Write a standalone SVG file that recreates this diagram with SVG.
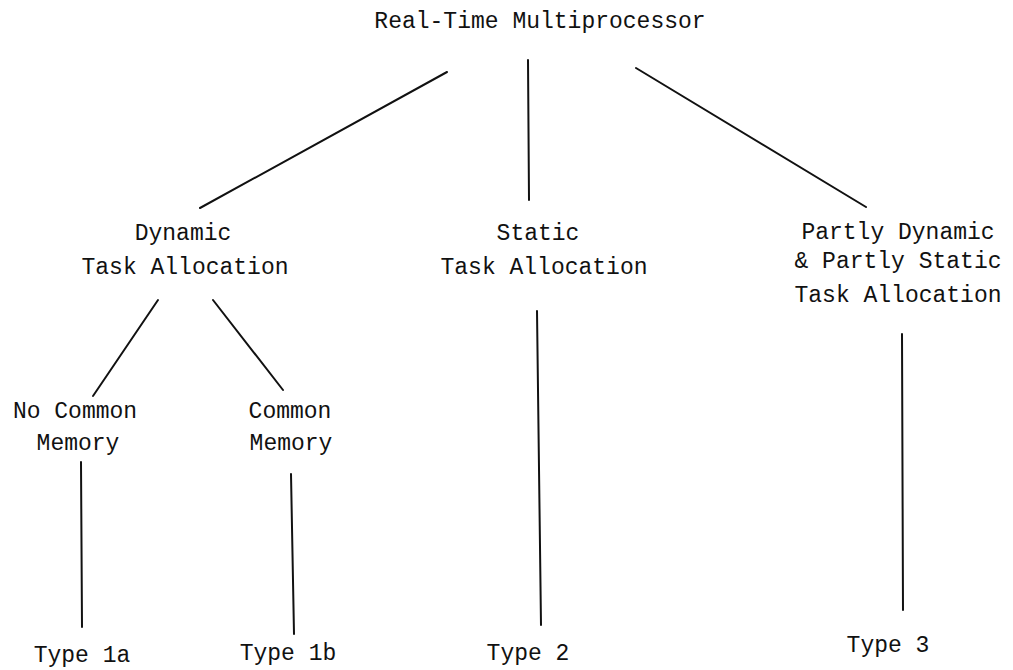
<svg xmlns="http://www.w3.org/2000/svg" width="1013" height="670" viewBox="0 0 1013 670">
<style>
text{font-family:"Liberation Mono","Courier New",monospace;font-size:23px;fill:#111;text-anchor:middle}
.c line{stroke:#111;stroke-width:2;stroke-linecap:round}
</style>
<rect width="1013" height="670" fill="#fff"/>
<g class="c" id="connectors">
<line x1="447" y1="72" x2="200" y2="208"/>
<line x1="528" y1="60" x2="529" y2="200"/>
<line x1="636" y1="68" x2="866" y2="207"/>
<line x1="158" y1="300" x2="93" y2="396"/>
<line x1="213" y1="300" x2="283" y2="390"/>
<line x1="81" y1="462" x2="82" y2="627"/>
<line x1="291" y1="474" x2="294" y2="634"/>
<line x1="537" y1="311" x2="541" y2="625"/>
<line x1="902" y1="334" x2="903" y2="610"/>
</g>
<g id="root"><text x="540" y="28">Real-Time Multiprocessor</text></g>
<g id="dynamic"><text x="183" y="240">Dynamic</text><text x="185" y="274">Task Allocation</text></g>
<g id="static"><text x="538" y="240">Static</text><text x="544" y="274">Task Allocation</text></g>
<g id="partly"><text x="898" y="239">Partly Dynamic</text><text x="898" y="268">&amp; Partly Static</text><text x="898" y="302">Task Allocation</text></g>
<g id="nocommon"><text x="75" y="418">No Common</text><text x="78" y="450">Memory</text></g>
<g id="common"><text x="290" y="418">Common</text><text x="291" y="450">Memory</text></g>
<g id="type1a"><text x="82" y="662">Type 1a</text></g>
<g id="type1b"><text x="288" y="660">Type 1b</text></g>
<g id="type2"><text x="528" y="660">Type 2</text></g>
<g id="type3"><text x="888" y="652">Type 3</text></g>
</svg>
